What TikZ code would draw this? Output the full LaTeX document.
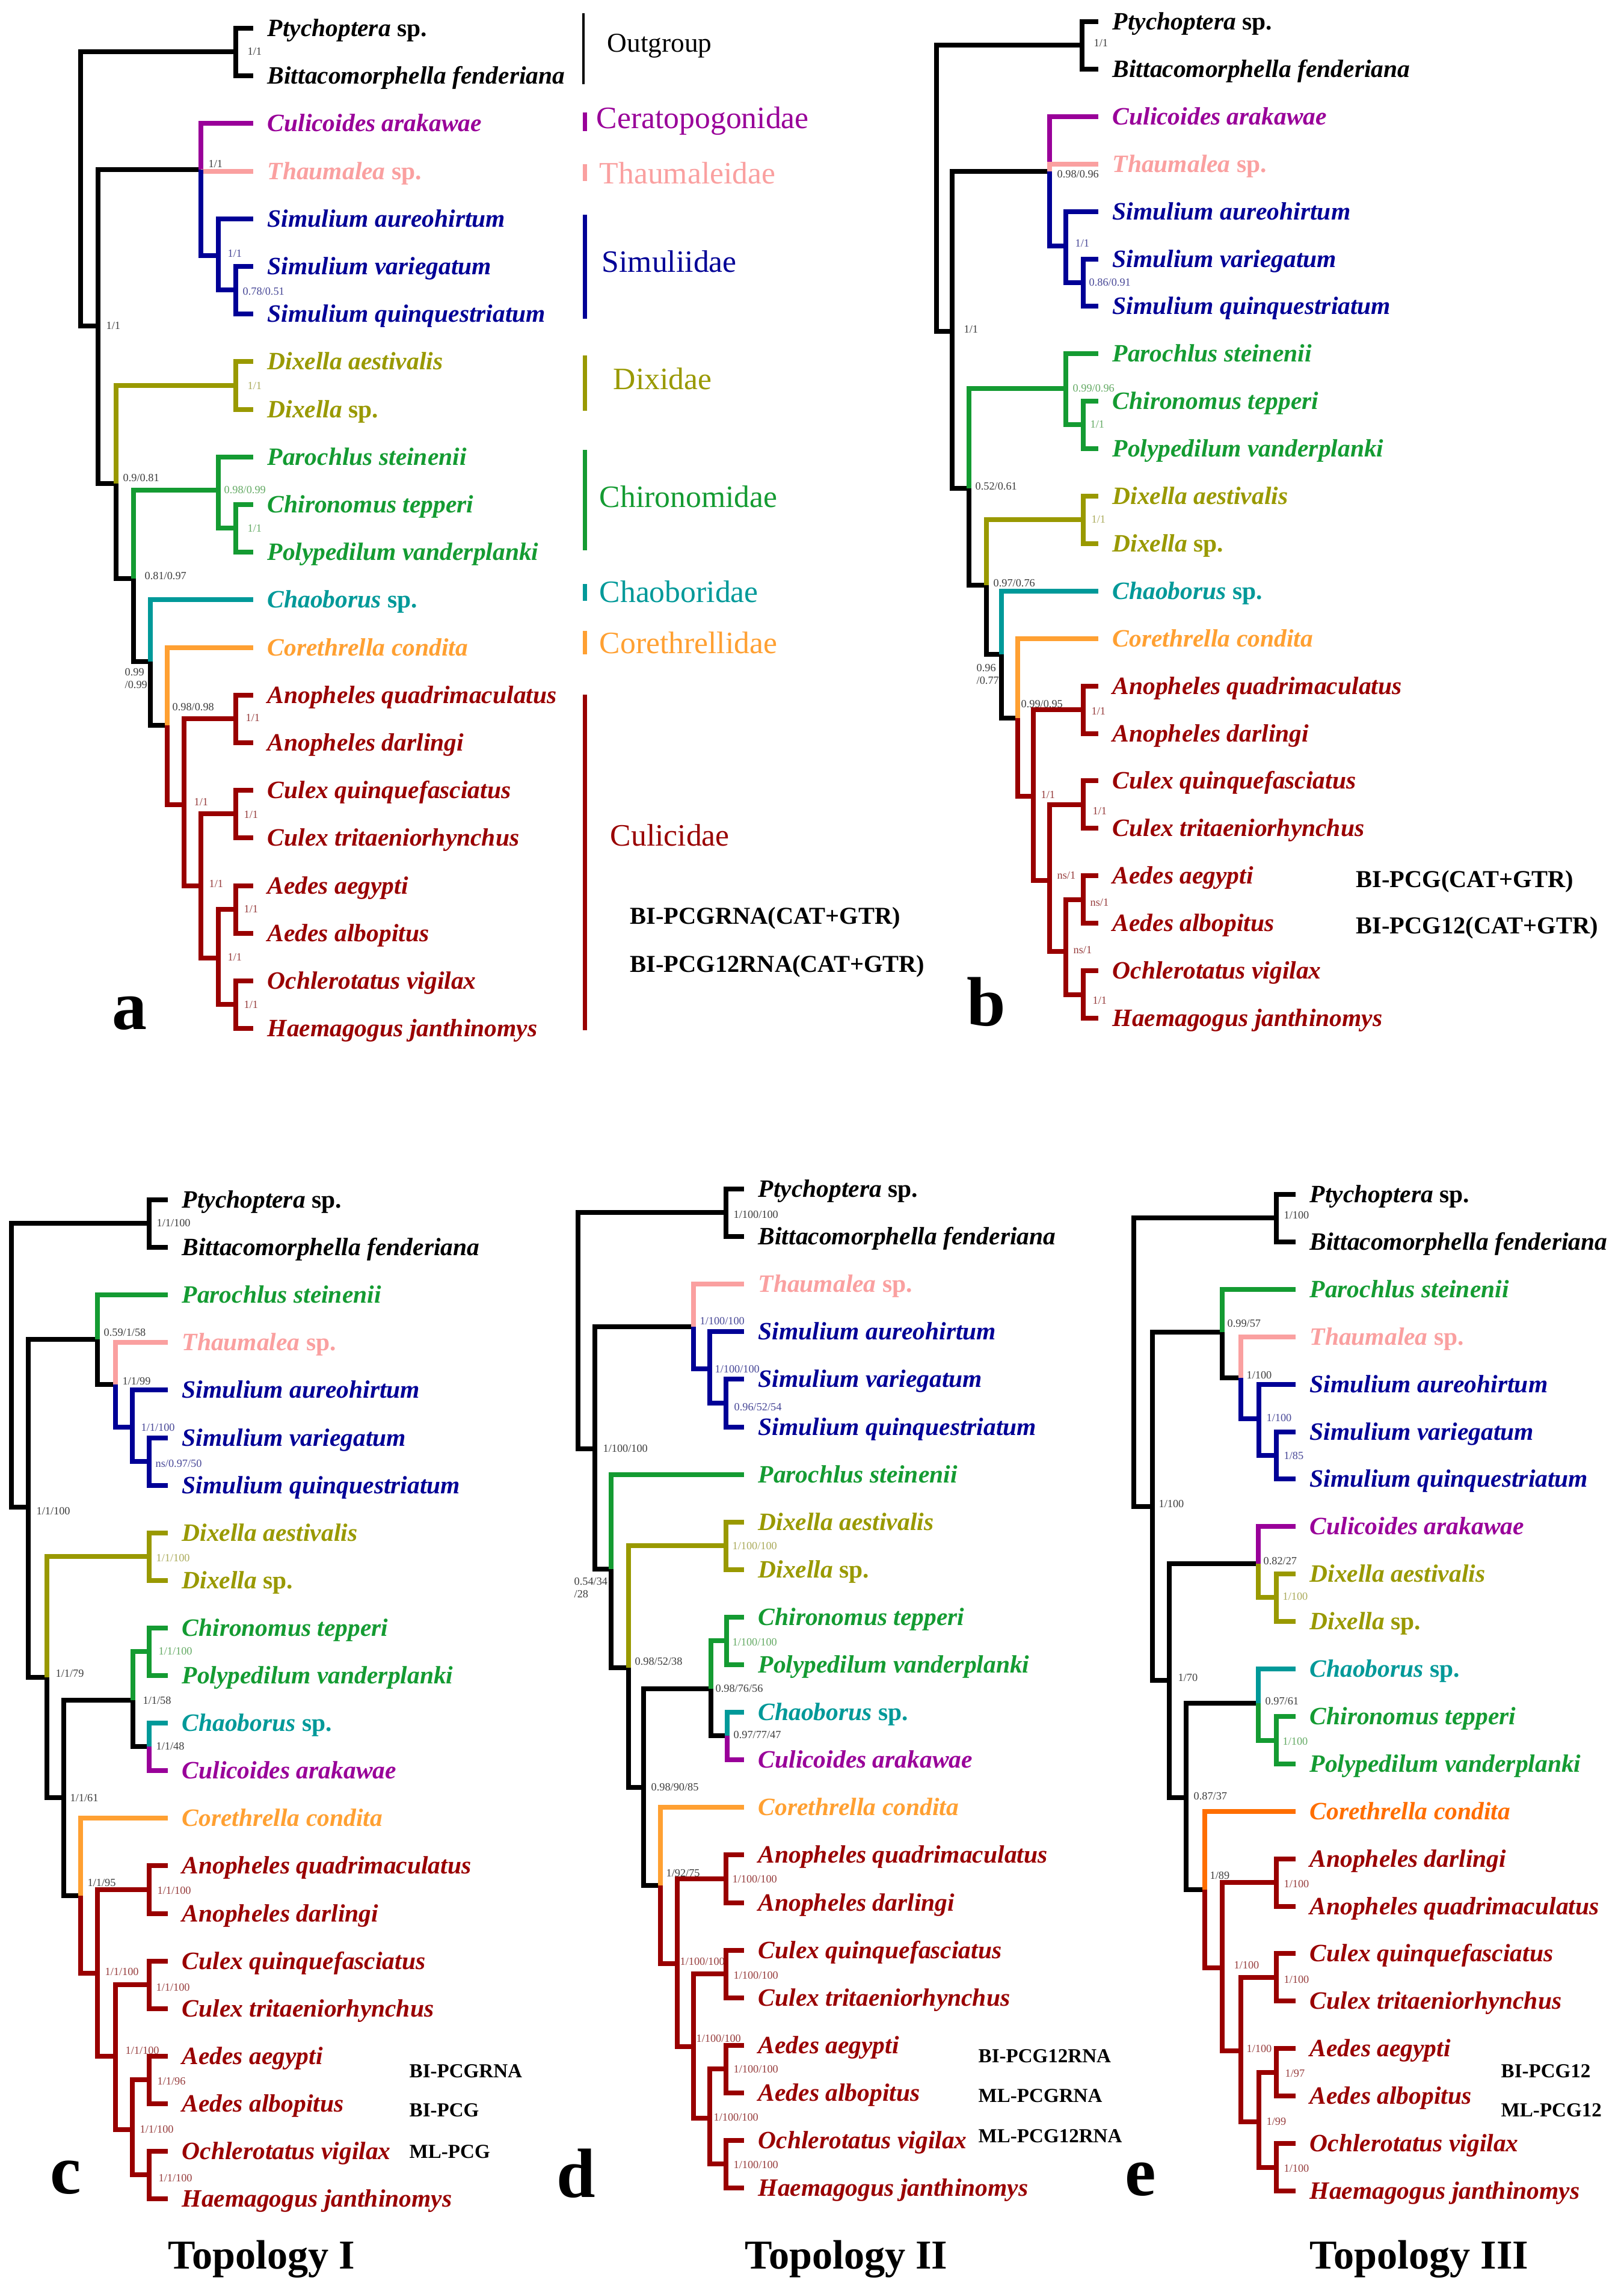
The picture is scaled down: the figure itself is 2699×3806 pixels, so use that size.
\documentclass[tikz,border=0pt]{standalone}
\usepackage{fontspec}
\setmainfont{Liberation Serif}
\definecolor{cPur}{RGB}{153,0,153}
\definecolor{cPink}{RGB}{250,160,160}
\definecolor{cBlue}{RGB}{0,0,150}
\definecolor{cOlive}{RGB}{153,153,0}
\definecolor{cGreen}{RGB}{20,155,50}
\definecolor{cTeal}{RGB}{0,153,153}
\definecolor{cOrange}{RGB}{255,160,50}
\definecolor{cOrangeE}{RGB}{255,110,0}
\definecolor{cRed}{RGB}{153,0,0}
\definecolor{sBlk}{RGB}{60,60,60}
\definecolor{sBlue}{RGB}{70,70,150}
\definecolor{sRed}{RGB}{150,60,60}
\definecolor{sGreen}{RGB}{100,170,100}
\definecolor{sOlive}{RGB}{170,170,90}
\tikzset{
  br/.style={line width=0.08cm, line join=miter},
  tax/.style={anchor=base west, inner sep=0pt, font=\fontsize{11.8}{13}\selectfont\bfseries\itshape},
  bs/.style={anchor=west, inner sep=0pt, align=left, font=\fontsize{5.2}{5.8}\selectfont},
  fam/.style={anchor=west, inner sep=0pt, font=\fontsize{14.7}{16}\selectfont},
  fambar/.style={line width=0.07cm},
  meth/.style={anchor=west, inner sep=0pt, font=\fontsize{11.5}{13}\selectfont\bfseries},
  methS/.style={anchor=west, inner sep=0pt, font=\fontsize{9.4}{11}\selectfont\bfseries},
  panel/.style={anchor=base west, inner sep=0pt, font=\fontsize{33}{36}\selectfont\bfseries},
  topo/.style={anchor=base west, inner sep=0pt, font=\fontsize{19.4}{22}\selectfont\bfseries}
}
\newcommand\taxon[5]{\coordinate (#1) at (#2,#3);
  \node[tax,text=#4] (#1L) at ([xshift=0.23cm,yshift=-0.13cm]#1) {#5};}
\newcommand\ed[3]{\draw[br,#1] (#2) |- (#3);}
\newcommand\bsl[5]{\node[bs,text=#2] (#1) at (#3,#4) {#5};}
\newcommand\spp{\textup{sp.}}
\begin{document}
\begin{tikzpicture}[x=0.01cm,y=-0.01cm]
\fill[white] (0,0) rectangle (2699,3806);
\useasboundingbox (0,0) rectangle (2699,3806);

% ================= Tree a =================
\taxon{a0}{421}{47}{black}{Ptychoptera \spp}
\taxon{a1}{421}{126}{black}{Bittacomorphella fenderiana}
\taxon{a2}{421}{205}{cPur}{Culicoides arakawae}
\taxon{a3}{421}{285}{cPink}{Thaumalea \spp}
\taxon{a4}{421}{364}{cBlue}{Simulium aureohirtum}
\taxon{a5}{421}{443}{cBlue}{Simulium variegatum}
\taxon{a6}{421}{522}{cBlue}{Simulium quinquestriatum}
\taxon{a7}{421}{601}{cOlive}{Dixella aestivalis}
\taxon{a8}{421}{681}{cOlive}{Dixella \spp}
\taxon{a9}{421}{760}{cGreen}{Parochlus steinenii}
\taxon{a10}{421}{839}{cGreen}{Chironomus tepperi}
\taxon{a11}{421}{918}{cGreen}{Polypedilum vanderplanki}
\taxon{a12}{421}{997}{cTeal}{Chaoborus \spp}
\taxon{a13}{421}{1077}{cOrange}{Corethrella condita}
\taxon{a14}{421}{1156}{cRed}{Anopheles quadrimaculatus}
\taxon{a15}{421}{1235}{cRed}{Anopheles darlingi}
\taxon{a16}{421}{1314}{cRed}{Culex quinquefasciatus}
\taxon{a17}{421}{1393}{cRed}{Culex tritaeniorhynchus}
\taxon{a18}{421}{1473}{cRed}{Aedes aegypti}
\taxon{a19}{421}{1552}{cRed}{Aedes albopitus}
\taxon{a20}{421}{1631}{cRed}{Ochlerotatus vigilax}
\taxon{a21}{421}{1710}{cRed}{Haemagogus janthinomys}
\coordinate (aR) at (134,300);
\coordinate (aO) at (392,86);
\coordinate (aI) at (163,542);
\coordinate (aN1) at (334,282);
\coordinate (aS1) at (363,425);
\coordinate (aS2) at (392,482);
\coordinate (aN2) at (193,804);
\coordinate (aD) at (392,641);
\coordinate (aN3) at (222,962);
\coordinate (aC1) at (363,815);
\coordinate (aC2) at (392,878);
\coordinate (aN4) at (250,1100);
\coordinate (aN5) at (278,1206);
\coordinate (aK1) at (306,1338);
\coordinate (aK2) at (392,1195);
\coordinate (aK3) at (334,1473);
\coordinate (aK4) at (392,1353);
\coordinate (aK5) at (363,1593);
\coordinate (aK6) at (392,1512);
\coordinate (aK7) at (392,1670);
\ed{black}{aR}{aO} \ed{black}{aR}{aI}
\ed{black}{aO}{a0} \ed{black}{aO}{a1}
\ed{black}{aI}{aN1} \ed{black}{aI}{aN2}
\ed{cPur}{aN1}{a2} \ed{cPink}{aN1}{a3} \ed{cBlue}{aN1}{aS1}
\ed{cBlue}{aS1}{a4} \ed{cBlue}{aS1}{aS2} \ed{cBlue}{aS2}{a5} \ed{cBlue}{aS2}{a6}
\ed{cOlive}{aN2}{aD} \ed{black}{aN2}{aN3}
\ed{cOlive}{aD}{a7} \ed{cOlive}{aD}{a8}
\ed{cGreen}{aN3}{aC1} \ed{black}{aN3}{aN4}
\ed{cGreen}{aC1}{a9} \ed{cGreen}{aC1}{aC2} \ed{cGreen}{aC2}{a10} \ed{cGreen}{aC2}{a11}
\ed{cTeal}{aN4}{a12} \ed{black}{aN4}{aN5}
\ed{cOrange}{aN5}{a13} \ed{cRed}{aN5}{aK1}
\ed{cRed}{aK1}{aK2} \ed{cRed}{aK1}{aK3}
\ed{cRed}{aK2}{a14} \ed{cRed}{aK2}{a15}
\ed{cRed}{aK3}{aK4} \ed{cRed}{aK3}{aK5}
\ed{cRed}{aK4}{a16} \ed{cRed}{aK4}{a17}
\ed{cRed}{aK5}{aK6} \ed{cRed}{aK5}{aK7}
\ed{cRed}{aK6}{a18} \ed{cRed}{aK6}{a19}
\ed{cRed}{aK7}{a20} \ed{cRed}{aK7}{a21}
\bsl{asa}{sBlk}{411}{86}{1/1}
\bsl{asb}{sBlk}{176}{542}{1/1}
\bsl{asc}{sBlk}{346}{273}{1/1}
\bsl{asd}{sBlue}{378}{422}{1/1}
\bsl{ase}{sBlue}{403}{485}{0.78/0.51}
\bsl{asf}{sOlive}{411}{642}{1/1}
\bsl{asg}{sBlk}{204}{795}{0.9/0.81}
\bsl{ash}{sBlk}{240}{958}{0.81/0.97}
\bsl{asi}{sGreen}{372}{815}{0.98/0.99}
\bsl{asj}{sGreen}{411}{879}{1/1}
\bsl{ask}{sBlk}{207}{1128}{0.99\\/0.99}
\bsl{asl}{sBlk}{286}{1176}{0.98/0.98}
\bsl{asm}{sRed}{408}{1194}{1/1}
\bsl{asn}{sRed}{322}{1334}{1/1}
\bsl{aso}{sRed}{347}{1470}{1/1}
\bsl{asp}{sRed}{405}{1355}{1/1}
\bsl{asq}{sRed}{378}{1592}{1/1}
\bsl{asr}{sRed}{405}{1512}{1/1}
\bsl{ass}{sRed}{405}{1671}{1/1}
% family bars
\draw[line width=0.045cm,black] (970,22) -- (970,140);
\draw[fambar,cPur] (972,187) -- (972,218);
\draw[fambar,cPink] (972,273) -- (972,301);
\draw[fambar,cBlue] (972,357) -- (972,530);
\draw[fambar,cOlive] (972,591) -- (972,683);
\draw[fambar,cGreen] (972,748) -- (972,915);
\draw[fambar,cTeal] (972,971) -- (972,999);
\draw[fambar,cOrange] (972,1049) -- (972,1088);
\draw[fambar,cRed] (972,1155) -- (972,1713);
\node[fam,font=\fontsize{12.9}{14}\selectfont] (fOut) at (1009,76) {Outgroup};
\node[fam,text=cPur] (fCer) at (991,201) {Ceratopogonidae};
\node[fam,text=cPink] (fTha) at (996,288) {Thaumaleidae};
\node[fam,text=cBlue] (fSim) at (1000,435) {Simuliidae};
\node[fam,text=cOlive] (fDix) at (1019,630) {Dixidae};
\node[fam,text=cGreen] (fChi) at (996,826) {Chironomidae};
\node[fam,text=cTeal] (fCha) at (996,984) {Chaoboridae};
\node[fam,text=cOrange] (fCor) at (996,1069) {Corethrellidae};
\node[fam,text=cRed] (fCul) at (1014,1389) {Culicidae};
\node[meth] (ma1) at (1047,1527) {BI-PCGRNA(CAT+GTR)};
\node[meth] (ma2) at (1047,1607) {BI-PCG12RNA(CAT+GTR)};
\node[panel] (pa) at (186,1711) {a};

% ================= Tree b =================
\taxon{b0}{1826}{36}{black}{Ptychoptera \spp}
\taxon{b1}{1826}{115}{black}{Bittacomorphella fenderiana}
\taxon{b2}{1826}{194}{cPur}{Culicoides arakawae}
\taxon{b3}{1826}{273}{cPink}{Thaumalea \spp}
\taxon{b4}{1826}{352}{cBlue}{Simulium aureohirtum}
\taxon{b5}{1826}{431}{cBlue}{Simulium variegatum}
\taxon{b6}{1826}{509}{cBlue}{Simulium quinquestriatum}
\taxon{b7}{1826}{588}{cGreen}{Parochlus steinenii}
\taxon{b8}{1826}{667}{cGreen}{Chironomus tepperi}
\taxon{b9}{1826}{746}{cGreen}{Polypedilum vanderplanki}
\taxon{b10}{1826}{825}{cOlive}{Dixella aestivalis}
\taxon{b11}{1826}{904}{cOlive}{Dixella \spp}
\taxon{b12}{1826}{983}{cTeal}{Chaoborus \spp}
\taxon{b13}{1826}{1062}{cOrange}{Corethrella condita}
\taxon{b14}{1826}{1141}{cRed}{Anopheles quadrimaculatus}
\taxon{b15}{1826}{1220}{cRed}{Anopheles darlingi}
\taxon{b16}{1826}{1298}{cRed}{Culex quinquefasciatus}
\taxon{b17}{1826}{1377}{cRed}{Culex tritaeniorhynchus}
\taxon{b18}{1826}{1456}{cRed}{Aedes aegypti}
\taxon{b19}{1826}{1535}{cRed}{Aedes albopitus}
\taxon{b20}{1826}{1614}{cRed}{Ochlerotatus vigilax}
\taxon{b21}{1826}{1693}{cRed}{Haemagogus janthinomys}
\coordinate (bR) at (1557,300);
\coordinate (bO) at (1799,75);
\coordinate (bI) at (1583,551);
\coordinate (bN1) at (1745,285);
\coordinate (bS1) at (1772,409);
\coordinate (bS2) at (1801,470);
\coordinate (bN2) at (1611,812);
\coordinate (bC1) at (1772,646);
\coordinate (bC2) at (1801,706);
\coordinate (bN3) at (1640,973);
\coordinate (bD) at (1801,864);
\coordinate (bN4) at (1665,1088);
\coordinate (bN5) at (1692,1194);
\coordinate (bK1) at (1718,1324);
\coordinate (bK2) at (1801,1180);
\coordinate (bK3) at (1745,1464);
\coordinate (bK4) at (1801,1338);
\coordinate (bK5) at (1772,1582);
\coordinate (bK6) at (1801,1496);
\coordinate (bK7) at (1801,1654);
\ed{black}{bR}{bO} \ed{black}{bR}{bI}
\ed{black}{bO}{b0} \ed{black}{bO}{b1}
\ed{black}{bI}{bN1} \ed{black}{bI}{bN2}
\ed{cPur}{bN1}{b2} \ed{cPink}{bN1}{b3} \ed{cBlue}{bN1}{bS1}
\ed{cBlue}{bS1}{b4} \ed{cBlue}{bS1}{bS2} \ed{cBlue}{bS2}{b5} \ed{cBlue}{bS2}{b6}
\ed{cGreen}{bN2}{bC1} \ed{black}{bN2}{bN3}
\ed{cGreen}{bC1}{b7} \ed{cGreen}{bC1}{bC2} \ed{cGreen}{bC2}{b8} \ed{cGreen}{bC2}{b9}
\ed{cOlive}{bN3}{bD} \ed{black}{bN3}{bN4}
\ed{cOlive}{bD}{b10} \ed{cOlive}{bD}{b11}
\ed{cTeal}{bN4}{b12} \ed{black}{bN4}{bN5}
\ed{cOrange}{bN5}{b13} \ed{cRed}{bN5}{bK1}
\ed{cRed}{bK1}{bK2} \ed{cRed}{bK1}{bK3}
\ed{cRed}{bK2}{b14} \ed{cRed}{bK2}{b15}
\ed{cRed}{bK3}{bK4} \ed{cRed}{bK3}{bK5}
\ed{cRed}{bK4}{b16} \ed{cRed}{bK4}{b17}
\ed{cRed}{bK5}{bK6} \ed{cRed}{bK5}{bK7}
\ed{cRed}{bK6}{b18} \ed{cRed}{bK6}{b19}
\ed{cRed}{bK7}{b20} \ed{cRed}{bK7}{b21}
\bsl{bsa}{sBlk}{1818}{72}{1/1}
\bsl{bsb}{sBlk}{1602}{548}{1/1}
\bsl{bsc}{sBlk}{1757}{290}{0.98/0.96}
\bsl{bsd}{sBlue}{1787}{405}{1/1}
\bsl{bse}{sBlue}{1810}{470}{0.86/0.91}
\bsl{bsf}{sBlk}{1621}{809}{0.52/0.61}
\bsl{bsg}{sGreen}{1783}{646}{0.99/0.96}
\bsl{bsh}{sGreen}{1812}{706}{1/1}
\bsl{bsi}{sOlive}{1814}{864}{1/1}
\bsl{bsj}{sBlk}{1651}{970}{0.97/0.76}
\bsl{bsk}{sBlk}{1623}{1121}{0.96\\/0.77}
\bsl{bsl}{sBlk}{1697}{1171}{0.99/0.95}
\bsl{bsm}{sRed}{1814}{1183}{1/1}
\bsl{bsn}{sRed}{1730}{1322}{1/1}
\bsl{bso}{sRed}{1816}{1349}{1/1}
\bsl{bsp}{sRed}{1757}{1456}{ns/1}
\bsl{bsq}{sRed}{1812}{1501}{ns/1}
\bsl{bsr}{sRed}{1784}{1580}{ns/1}
\bsl{bss}{sRed}{1816}{1664}{1/1}
\node[meth] (mb1) at (2254,1466) {BI-PCG(CAT+GTR)};
\node[meth] (mb2) at (2254,1543) {BI-PCG12(CAT+GTR)};
\node[panel] (pb) at (1607,1705) {b};

% ================= Tree c =================
\taxon{c0}{279}{1995}{black}{Ptychoptera \spp}
\taxon{c1}{279}{2074}{black}{Bittacomorphella fenderiana}
\taxon{c2}{279}{2153}{cGreen}{Parochlus steinenii}
\taxon{c3}{279}{2232}{cPink}{Thaumalea \spp}
\taxon{c4}{279}{2311}{cBlue}{Simulium aureohirtum}
\taxon{c5}{279}{2391}{cBlue}{Simulium variegatum}
\taxon{c6}{279}{2470}{cBlue}{Simulium quinquestriatum}
\taxon{c7}{279}{2549}{cOlive}{Dixella aestivalis}
\taxon{c8}{279}{2628}{cOlive}{Dixella \spp}
\taxon{c9}{279}{2707}{cGreen}{Chironomus tepperi}
\taxon{c10}{279}{2786}{cGreen}{Polypedilum vanderplanki}
\taxon{c11}{279}{2865}{cTeal}{Chaoborus \spp}
\taxon{c12}{279}{2944}{cPur}{Culicoides arakawae}
\taxon{c13}{279}{3023}{cOrange}{Corethrella condita}
\taxon{c14}{279}{3102}{cRed}{Anopheles quadrimaculatus}
\taxon{c15}{279}{3182}{cRed}{Anopheles darlingi}
\taxon{c16}{279}{3261}{cRed}{Culex quinquefasciatus}
\taxon{c17}{279}{3340}{cRed}{Culex tritaeniorhynchus}
\taxon{c18}{279}{3419}{cRed}{Aedes aegypti}
\taxon{c19}{279}{3498}{cRed}{Aedes albopitus}
\taxon{c20}{279}{3577}{cRed}{Ochlerotatus vigilax}
\taxon{c21}{279}{3656}{cRed}{Haemagogus janthinomys}
\coordinate (cR) at (19,2270);
\coordinate (cO) at (248,2034);
\coordinate (cI) at (47,2506);
\coordinate (cN1) at (162,2227);
\coordinate (cN1b) at (192,2302);
\coordinate (cS1) at (220,2373);
\coordinate (cS2) at (248,2430);
\coordinate (cN2) at (78,2789);
\coordinate (cD) at (248,2588);
\coordinate (cN3) at (106,2989);
\coordinate (cN4) at (221,2827);
\coordinate (cC) at (248,2746);
\coordinate (cN6) at (248,2904);
\coordinate (cN5) at (134,3152);
\coordinate (cK1) at (162,3281);
\coordinate (cK2) at (248,3142);
\coordinate (cK3) at (192,3419);
\coordinate (cK4) at (248,3300);
\coordinate (cK5) at (220,3541);
\coordinate (cK6) at (248,3458);
\coordinate (cK7) at (248,3616);
\ed{black}{cR}{cO} \ed{black}{cR}{cI}
\ed{black}{cO}{c0} \ed{black}{cO}{c1}
\ed{black}{cI}{cN1} \ed{black}{cI}{cN2}
\ed{cGreen}{cN1}{c2} \ed{black}{cN1}{cN1b}
\ed{cPink}{cN1b}{c3} \ed{cBlue}{cN1b}{cS1}
\ed{cBlue}{cS1}{c4} \ed{cBlue}{cS1}{cS2} \ed{cBlue}{cS2}{c5} \ed{cBlue}{cS2}{c6}
\ed{cOlive}{cN2}{cD} \ed{black}{cN2}{cN3}
\ed{cOlive}{cD}{c7} \ed{cOlive}{cD}{c8}
\ed{black}{cN3}{cN4} \ed{black}{cN3}{cN5}
\ed{cGreen}{cN4}{cC} \ed{black}{cN4}{cN6}
\ed{cGreen}{cC}{c9} \ed{cGreen}{cC}{c10}
\ed{cTeal}{cN6}{c11} \ed{cPur}{cN6}{c12}
\ed{cOrange}{cN5}{c13} \ed{cRed}{cN5}{cK1}
\ed{cRed}{cK1}{cK2} \ed{cRed}{cK1}{cK3}
\ed{cRed}{cK2}{c14} \ed{cRed}{cK2}{c15}
\ed{cRed}{cK3}{cK4} \ed{cRed}{cK3}{cK5}
\ed{cRed}{cK4}{c16} \ed{cRed}{cK4}{c17}
\ed{cRed}{cK5}{cK6} \ed{cRed}{cK5}{cK7}
\ed{cRed}{cK6}{c18} \ed{cRed}{cK6}{c19}
\ed{cRed}{cK7}{c20} \ed{cRed}{cK7}{c21}
\bsl{csa}{sBlk}{260}{2033}{1/1/100}
\bsl{csb}{sBlk}{60}{2512}{1/1/100}
\bsl{csc}{sBlk}{172}{2216}{0.59/1/58}
\bsl{csd}{sBlk}{203}{2297}{1/1/99}
\bsl{cse}{sBlue}{234}{2373}{1/1/100}
\bsl{csf}{sBlue}{258}{2434}{ns/0.97/50}
\bsl{csg}{sBlk}{92}{2782}{1/1/79}
\bsl{csh}{sOlive}{259}{2590}{1/1/100}
\bsl{csi}{sBlk}{116}{2989}{1/1/61}
\bsl{csj}{sBlk}{237}{2827}{1/1/58}
\bsl{csk}{sGreen}{263}{2745}{1/1/100}
\bsl{csl}{sBlk}{259}{2903}{1/1/48}
\bsl{csm}{sBlk}{145}{3130}{1/1/95}
\bsl{csn}{sRed}{261}{3143}{1/1/100}
\bsl{cso}{sRed}{174}{3278}{1/1/100}
\bsl{csp}{sRed}{259}{3304}{1/1/100}
\bsl{csq}{sRed}{208}{3409}{1/1/100}
\bsl{csr}{sRed}{261}{3460}{1/1/96}
\bsl{css}{sRed}{232}{3540}{1/1/100}
\bsl{cst}{sRed}{263}{3621}{1/1/100}
\node[methS] (mc1) at (680,3444) {BI-PCGRNA};
\node[methS] (mc2) at (680,3509) {BI-PCG};
\node[methS] (mc3) at (680,3578) {ML-PCG};
\node[panel] (pc) at (83,3647) {c};
\node[topo] (tc) at (279,3772) {Topology I};

% ================= Tree d =================
\taxon{d0}{1237}{1977}{black}{Ptychoptera \spp}
\taxon{d1}{1237}{2056}{black}{Bittacomorphella fenderiana}
\taxon{d2}{1237}{2135}{cPink}{Thaumalea \spp}
\taxon{d3}{1237}{2214}{cBlue}{Simulium aureohirtum}
\taxon{d4}{1237}{2293}{cBlue}{Simulium variegatum}
\taxon{d5}{1237}{2373}{cBlue}{Simulium quinquestriatum}
\taxon{d6}{1237}{2452}{cGreen}{Parochlus steinenii}
\taxon{d7}{1237}{2531}{cOlive}{Dixella aestivalis}
\taxon{d8}{1237}{2610}{cOlive}{Dixella \spp}
\taxon{d9}{1237}{2689}{cGreen}{Chironomus tepperi}
\taxon{d10}{1237}{2768}{cGreen}{Polypedilum vanderplanki}
\taxon{d11}{1237}{2847}{cTeal}{Chaoborus \spp}
\taxon{d12}{1237}{2926}{cPur}{Culicoides arakawae}
\taxon{d13}{1237}{3005}{cOrange}{Corethrella condita}
\taxon{d14}{1237}{3084}{cRed}{Anopheles quadrimaculatus}
\taxon{d15}{1237}{3164}{cRed}{Anopheles darlingi}
\taxon{d16}{1237}{3243}{cRed}{Culex quinquefasciatus}
\taxon{d17}{1237}{3322}{cRed}{Culex tritaeniorhynchus}
\taxon{d18}{1237}{3401}{cRed}{Aedes aegypti}
\taxon{d19}{1237}{3480}{cRed}{Aedes albopitus}
\taxon{d20}{1237}{3559}{cRed}{Ochlerotatus vigilax}
\taxon{d21}{1237}{3638}{cRed}{Haemagogus janthinomys}
\coordinate (dR) at (961,2200);
\coordinate (dO) at (1207,2016);
\coordinate (dI) at (989,2409);
\coordinate (dN1) at (1153,2206);
\coordinate (dS1) at (1180,2276);
\coordinate (dS2) at (1207,2333);
\coordinate (dN2) at (1016,2609);
\coordinate (dN3) at (1045,2773);
\coordinate (dD) at (1207,2570);
\coordinate (dN4) at (1070,2972);
\coordinate (dN5) at (1182,2808);
\coordinate (dC) at (1208,2728);
\coordinate (dN7) at (1209,2886);
\coordinate (dN6) at (1098,3135);
\coordinate (dK1) at (1126,3265);
\coordinate (dK2) at (1207,3124);
\coordinate (dK3) at (1153,3403);
\coordinate (dK4) at (1207,3282);
\coordinate (dK5) at (1180,3522);
\coordinate (dK6) at (1207,3440);
\coordinate (dK7) at (1207,3598);
\ed{black}{dR}{dO} \ed{black}{dR}{dI}
\ed{black}{dO}{d0} \ed{black}{dO}{d1}
\ed{black}{dI}{dN1} \ed{black}{dI}{dN2}
\ed{cPink}{dN1}{d2} \ed{cBlue}{dN1}{dS1}
\ed{cBlue}{dS1}{d3} \ed{cBlue}{dS1}{dS2} \ed{cBlue}{dS2}{d4} \ed{cBlue}{dS2}{d5}
\ed{cGreen}{dN2}{d6} \ed{black}{dN2}{dN3}
\ed{cOlive}{dN3}{dD} \ed{black}{dN3}{dN4}
\ed{cOlive}{dD}{d7} \ed{cOlive}{dD}{d8}
\ed{black}{dN4}{dN5} \ed{black}{dN4}{dN6}
\ed{cGreen}{dN5}{dC} \ed{black}{dN5}{dN7}
\ed{cGreen}{dC}{d9} \ed{cGreen}{dC}{d10}
\ed{cTeal}{dN7}{d11} \ed{cPur}{dN7}{d12}
\ed{cOrange}{dN6}{d13} \ed{cRed}{dN6}{dK1}
\ed{cRed}{dK1}{dK2} \ed{cRed}{dK1}{dK3}
\ed{cRed}{dK2}{d14} \ed{cRed}{dK2}{d15}
\ed{cRed}{dK3}{dK4} \ed{cRed}{dK3}{dK5}
\ed{cRed}{dK4}{d16} \ed{cRed}{dK4}{d17}
\ed{cRed}{dK5}{dK6} \ed{cRed}{dK5}{dK7}
\ed{cRed}{dK6}{d18} \ed{cRed}{dK6}{d19}
\ed{cRed}{dK7}{d20} \ed{cRed}{dK7}{d21}
\bsl{dsa}{sBlk}{1219}{2019}{1/100/100}
\bsl{dsb}{sBlk}{1002}{2408}{1/100/100}
\bsl{dsc}{sBlue}{1163}{2196}{1/100/100}
\bsl{dsd}{sBlue}{1188}{2276}{1/100/100}
\bsl{dse}{sBlue}{1220}{2340}{0.96/52/54}
\bsl{dsf}{sBlk}{954}{2640}{0.54/34\\/28}
\bsl{dsg}{sBlk}{1055}{2763}{0.98/52/38}
\bsl{dsh}{sOlive}{1217}{2570}{1/100/100}
\bsl{dsi}{sBlk}{1082}{2972}{0.98/90/85}
\bsl{dsj}{sBlk}{1189}{2808}{0.98/76/56}
\bsl{dsk}{sGreen}{1217}{2730}{1/100/100}
\bsl{dsl}{sBlk}{1219}{2885}{0.97/77/47}
\bsl{dsm}{sBlk}{1107}{3114}{1/92/75}
\bsl{dsn}{sRed}{1217}{3124}{1/100/100}
\bsl{dso}{sRed}{1130}{3261}{1/100/100}
\bsl{dsp}{sRed}{1219}{3284}{1/100/100}
\bsl{dsq}{sRed}{1157}{3389}{1/100/100}
\bsl{dsr}{sRed}{1219}{3440}{1/100/100}
\bsl{dss}{sRed}{1186}{3520}{1/100/100}
\bsl{dst}{sRed}{1219}{3599}{1/100/100}
\node[methS] (md1) at (1626,3419) {BI-PCG12RNA};
\node[methS] (md2) at (1626,3485) {ML-PCGRNA};
\node[methS] (md3) at (1626,3552) {ML-PCG12RNA};
\node[panel] (pd) at (925,3653) {d};
\node[topo] (td) at (1238,3772) {Topology II};

% ================= Tree e =================
\taxon{e0}{2154}{1986}{black}{Ptychoptera \spp}
\taxon{e1}{2154}{2065}{black}{Bittacomorphella fenderiana}
\taxon{e2}{2154}{2144}{cGreen}{Parochlus steinenii}
\taxon{e3}{2154}{2223}{cPink}{Thaumalea \spp}
\taxon{e4}{2154}{2302}{cBlue}{Simulium aureohirtum}
\taxon{e5}{2154}{2381}{cBlue}{Simulium variegatum}
\taxon{e6}{2154}{2459}{cBlue}{Simulium quinquestriatum}
\taxon{e7}{2154}{2538}{cPur}{Culicoides arakawae}
\taxon{e8}{2154}{2617}{cOlive}{Dixella aestivalis}
\taxon{e9}{2154}{2696}{cOlive}{Dixella \spp}
\taxon{e10}{2154}{2775}{cTeal}{Chaoborus \spp}
\taxon{e11}{2154}{2854}{cGreen}{Chironomus tepperi}
\taxon{e12}{2154}{2933}{cGreen}{Polypedilum vanderplanki}
\taxon{e13}{2154}{3012}{cOrangeE}{Corethrella condita}
\taxon{e14}{2154}{3091}{cRed}{Anopheles darlingi}
\taxon{e15}{2154}{3170}{cRed}{Anopheles quadrimaculatus}
\taxon{e16}{2154}{3248}{cRed}{Culex quinquefasciatus}
\taxon{e17}{2154}{3327}{cRed}{Culex tritaeniorhynchus}
\taxon{e18}{2154}{3406}{cRed}{Aedes aegypti}
\taxon{e19}{2154}{3485}{cRed}{Aedes albopitus}
\taxon{e20}{2154}{3564}{cRed}{Ochlerotatus vigilax}
\taxon{e21}{2154}{3643}{cRed}{Haemagogus janthinomys}
\coordinate (eR) at (1885,2260);
\coordinate (eO) at (2122,2025);
\coordinate (eI) at (1916,2505);
\coordinate (eN1) at (2032,2215);
\coordinate (eN1b) at (2063,2291);
\coordinate (eS1) at (2093,2359);
\coordinate (eS2) at (2122,2420);
\coordinate (eN2) at (1944,2794);
\coordinate (eN3) at (2092,2600);
\coordinate (eD) at (2122,2656);
\coordinate (eN4) at (1972,2989);
\coordinate (eN5) at (2092,2832);
\coordinate (eC) at (2122,2894);
\coordinate (eN6) at (2003,3142);
\coordinate (eK1) at (2032,3272);
\coordinate (eK2) at (2122,3130);
\coordinate (eK3) at (2063,3410);
\coordinate (eK4) at (2122,3288);
\coordinate (eK5) at (2093,3528);
\coordinate (eK6) at (2122,3446);
\coordinate (eK7) at (2122,3604);
\ed{black}{eR}{eO} \ed{black}{eR}{eI}
\ed{black}{eO}{e0} \ed{black}{eO}{e1}
\ed{black}{eI}{eN1} \ed{black}{eI}{eN2}
\ed{cGreen}{eN1}{e2} \ed{black}{eN1}{eN1b}
\ed{cPink}{eN1b}{e3} \ed{cBlue}{eN1b}{eS1}
\ed{cBlue}{eS1}{e4} \ed{cBlue}{eS1}{eS2} \ed{cBlue}{eS2}{e5} \ed{cBlue}{eS2}{e6}
\ed{black}{eN2}{eN3} \ed{black}{eN2}{eN4}
\ed{cPur}{eN3}{e7} \ed{cOlive}{eN3}{eD}
\ed{cOlive}{eD}{e8} \ed{cOlive}{eD}{e9}
\ed{black}{eN4}{eN5} \ed{black}{eN4}{eN6}
\ed{cTeal}{eN5}{e10} \ed{cGreen}{eN5}{eC}
\ed{cGreen}{eC}{e11} \ed{cGreen}{eC}{e12}
\ed{cOrangeE}{eN6}{e13} \ed{cRed}{eN6}{eK1}
\ed{cRed}{eK1}{eK2} \ed{cRed}{eK1}{eK3}
\ed{cRed}{eK2}{e14} \ed{cRed}{eK2}{e15}
\ed{cRed}{eK3}{eK4} \ed{cRed}{eK3}{eK5}
\ed{cRed}{eK4}{e16} \ed{cRed}{eK4}{e17}
\ed{cRed}{eK5}{eK6} \ed{cRed}{eK5}{eK7}
\ed{cRed}{eK6}{e18} \ed{cRed}{eK6}{e19}
\ed{cRed}{eK7}{e20} \ed{cRed}{eK7}{e21}
\bsl{esa}{sBlk}{2134}{2020}{1/100}
\bsl{esb}{sBlk}{1926}{2500}{1/100}
\bsl{esc}{sBlk}{2040}{2201}{0.99/57}
\bsl{esd}{sBlk}{2072}{2286}{1/100}
\bsl{ese}{sBlue}{2105}{2357}{1/100}
\bsl{esf}{sBlue}{2134}{2420}{1/85}
\bsl{esg}{sBlk}{1958}{2789}{1/70}
\bsl{esh}{sBlk}{2100}{2596}{0.82/27}
\bsl{esi}{sOlive}{2132}{2654}{1/100}
\bsl{esj}{sBlk}{1984}{2987}{0.87/37}
\bsl{esk}{sBlk}{2103}{2829}{0.97/61}
\bsl{esl}{sGreen}{2132}{2895}{1/100}
\bsl{esm}{sBlk}{2011}{3118}{1/89}
\bsl{esn}{sRed}{2134}{3132}{1/100}
\bsl{eso}{sRed}{2051}{3267}{1/100}
\bsl{esp}{sRed}{2134}{3291}{1/100}
\bsl{esq}{sRed}{2072}{3406}{1/100}
\bsl{esr}{sRed}{2136}{3447}{1/97}
\bsl{ess}{sRed}{2105}{3527}{1/99}
\bsl{est}{sRed}{2134}{3605}{1/100}
\node[methS] (me1) at (2495,3444) {BI-PCG12};
\node[methS] (me2) at (2495,3509) {ML-PCG12};
\node[panel] (pe) at (1870,3650) {e};
\node[topo] (te) at (2177,3772) {Topology III};
\end{tikzpicture}
\end{document}
